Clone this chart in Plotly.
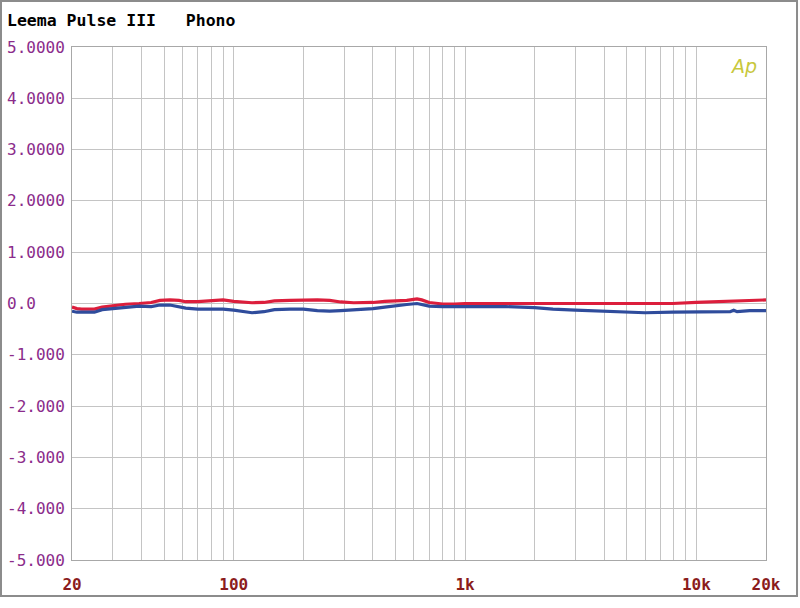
import numpy as np
import plotly.graph_objects as go

title_text = "Leema Pulse III   Phono"

freq = [20, 21, 22, 25, 27, 30, 34, 39, 44, 48, 53, 58, 62, 70, 80, 90, 100, 110, 120, 135,
        150, 175, 200, 230, 260, 290, 330, 400, 450, 500, 560, 620, 650, 700, 800, 900, 1000,
        1200, 1500, 2000, 2400, 3000, 3800, 5000, 6000, 7900, 10000, 12000, 14000, 14500,
        15000, 17000, 20000]

red_db = [-0.07, -0.10, -0.11, -0.11, -0.07, -0.04, -0.015, 0.0, 0.02, 0.06, 0.07, 0.06, 0.035,
          0.035, 0.06, 0.07, 0.04, 0.02, 0.015, 0.02, 0.05, 0.06, 0.07, 0.07, 0.06, 0.03, 0.015,
          0.02, 0.04, 0.05, 0.06, 0.09, 0.07, 0.02, -0.01, -0.01, 0.0, 0.0, 0.0, 0.0, 0.0, 0.01,
          0.0, 0.0, 0.0, 0.0, 0.02, 0.035, 0.035, 0.05, 0.05, 0.06, 0.07]

blue_db = [-0.15, -0.17, -0.17, -0.17, -0.12, -0.10, -0.07, -0.05, -0.06, -0.03, -0.03, -0.06,
           -0.09, -0.11, -0.11, -0.11, -0.13, -0.15, -0.18, -0.16, -0.12, -0.11, -0.11, -0.14,
           -0.15, -0.14, -0.13, -0.10, -0.07, -0.04, -0.02, 0.0, -0.02, -0.05, -0.06, -0.06,
           -0.05, -0.05, -0.06, -0.08, -0.11, -0.13, -0.15, -0.17, -0.18, -0.17, -0.17, -0.17,
           -0.16, -0.13, -0.16, -0.14, -0.14]

x_grid = [20, 30, 40, 50, 60, 70, 80, 90, 100, 200, 300, 400, 500, 600, 700, 800, 900,
          1000, 2000, 3000, 4000, 5000, 6000, 7000, 8000, 9000, 10000, 20000]
x_labels = {20: "20", 100: "100", 1000: "1k", 10000: "10k", 20000: "20k"}

y_ticks = [5, 4, 3, 2, 1, 0, -1, -2, -3, -4, -5]
y_labels = ["5.0000", "4.0000", "3.0000", "2.0000", "1.0000", "0.0",
            "-1.000", "-2.000", "-3.000", "-4.000", "-5.000"]

mono = "DejaVu Sans Mono"

fig = go.Figure()
fig.add_trace(go.Scatter(x=freq, y=red_db, mode="lines", line=dict(color="#dc1e3c", width=3.2),
                         showlegend=False, hoverinfo="skip"))
fig.add_trace(go.Scatter(x=freq, y=blue_db, mode="lines", line=dict(color="#2f4c9c", width=3.2),
                         showlegend=False, hoverinfo="skip"))

fig.update_xaxes(type="log", range=[np.log10(20), np.log10(20000)],
                 tickvals=x_grid, ticktext=[x_labels.get(v, "") for v in x_grid],
                 showgrid=True, gridcolor="#c4c4c4", gridwidth=1,
                 ticks="outside", ticklen=10, tickcolor="rgba(0,0,0,0)",
                 tickfont=dict(family=mono, size=16, color="#8b1c1c", weight="bold"),
                 showline=True, linecolor="#a8a8a8", linewidth=1, mirror=True, zeroline=False)
fig.update_yaxes(range=[-5, 5], tickvals=y_ticks, showticklabels=False,
                 showgrid=True, gridcolor="#c4c4c4", gridwidth=1,
                 showline=True, linecolor="#a8a8a8", linewidth=1, mirror=True, zeroline=False)

annotations = []
for v, t in zip(y_ticks, y_labels):
    annotations.append(dict(x=-0.0965, xref="paper", y=v, yref="y", text=t, showarrow=False,
                            xanchor="left", yanchor="middle",
                            font=dict(family=mono, size=16, color="#8b2c8b")))
annotations.append(dict(x=-0.0965, xref="paper", y=1.0526, yref="paper", text=title_text,
                        showarrow=False, xanchor="left", yanchor="middle",
                        font=dict(family=mono, size=16.5, color="#000000", weight="bold")))
annotations.append(dict(x=0.967, xref="paper", y=0.963, yref="paper", text="<i>Ap</i>",
                        showarrow=False, xanchor="center", yanchor="middle",
                        font=dict(family="DejaVu Sans", size=19, color="#c8c83c")))

fig.update_layout(
    width=800, height=608,
    margin=dict(l=72, r=34, t=47, b=48),
    paper_bgcolor="white", plot_bgcolor="white",
    annotations=annotations,
    shapes=[dict(type="rect", xref="paper", yref="paper",
                 x0=-0.1023, x1=1.0447, y0=-0.0702, y1=1.0897,
                 line=dict(color="#8c8c8c", width=2), fillcolor="rgba(0,0,0,0)", layer="below")],
)

fig.write_html("out.html", config={"displayModeBar": False},
               post_script="document.body.style.margin='0';document.body.style.overflow='hidden';")
